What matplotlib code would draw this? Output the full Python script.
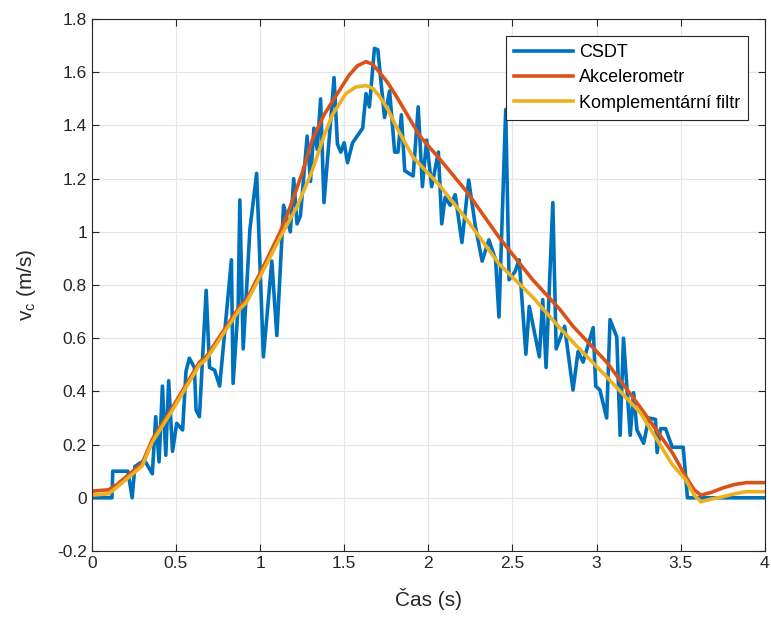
import matplotlib
matplotlib.use('Agg')
import matplotlib.pyplot as plt
from matplotlib.ticker import FuncFormatter

plt.rcParams['font.family'] = ['Liberation Sans', 'DejaVu Sans']
plt.rcParams['mathtext.fontset'] = 'custom'
plt.rcParams['mathtext.rm'] = 'Liberation Sans'
plt.rcParams['mathtext.it'] = 'Liberation Sans'

# CSDT measurement (noisy)
csdt_t = [0.0, 0.12, 0.125, 0.215, 0.24, 0.256, 0.285, 0.315, 0.36, 0.38, 0.40, 0.42,
          0.44, 0.457, 0.48, 0.505, 0.54, 0.56, 0.58, 0.61, 0.62, 0.64, 0.68, 0.70,
          0.73, 0.76, 0.80, 0.83, 0.84, 0.87, 0.88, 0.90, 0.94, 0.98, 1.02, 1.07,
          1.10, 1.14, 1.18, 1.20, 1.22, 1.24, 1.28, 1.30, 1.32, 1.34, 1.36, 1.38,
          1.415, 1.44, 1.46, 1.48, 1.50, 1.52, 1.55, 1.61, 1.63, 1.65, 1.68, 1.70,
          1.74, 1.77, 1.80, 1.82, 1.84, 1.86, 1.91, 1.94, 1.965, 1.99, 2.02, 2.06,
          2.08, 2.10, 2.13, 2.16, 2.20, 2.24, 2.28, 2.32, 2.36, 2.40, 2.42, 2.46,
          2.48, 2.515, 2.54, 2.58, 2.60, 2.66, 2.68, 2.70, 2.74, 2.76, 2.81, 2.86,
          2.89, 2.92, 2.98, 2.995, 3.02, 3.06, 3.08, 3.12, 3.14, 3.16, 3.20, 3.22,
          3.24, 3.28, 3.31, 3.35, 3.36, 3.38, 3.41, 3.45, 3.515, 3.54, 4.0]
csdt_v = [0.0, 0.0, 0.10, 0.10, 0.0, 0.117, 0.13, 0.14, 0.09, 0.305, 0.135, 0.42,
          0.16, 0.44, 0.175, 0.28, 0.255, 0.475, 0.525, 0.49, 0.33, 0.305, 0.78, 0.49,
          0.48, 0.42, 0.69, 0.895, 0.43, 0.72, 1.12, 0.56, 1.01, 1.22, 0.53, 0.89,
          0.61, 1.10, 1.0, 1.20, 1.03, 1.06, 1.36, 1.19, 1.39, 1.31, 1.50, 1.11,
          1.38, 1.58, 1.33, 1.30, 1.335, 1.26, 1.335, 1.39, 1.52, 1.47, 1.69, 1.685,
          1.43, 1.53, 1.30, 1.30, 1.44, 1.23, 1.21, 1.47, 1.17, 1.345, 1.17, 1.30,
          1.03, 1.13, 1.10, 1.14, 0.96, 1.195, 1.02, 0.89, 0.97, 0.895, 0.68, 1.46,
          0.82, 0.85, 0.895, 0.54, 0.72, 0.53, 0.745, 0.49, 1.11, 0.56, 0.645, 0.405,
          0.55, 0.51, 0.64, 0.42, 0.405, 0.30, 0.67, 0.605, 0.235, 0.60, 0.235, 0.395,
          0.255, 0.205, 0.30, 0.295, 0.17, 0.26, 0.26, 0.19, 0.19, 0.0, 0.0]

# Akcelerometr
acc_t = [0.0, 0.1, 0.15, 0.3, 0.36, 0.48, 0.64, 0.68, 0.88, 0.92, 1.04, 1.12, 1.18,
         1.25, 1.31, 1.38, 1.46, 1.53, 1.58, 1.63, 1.67, 1.71, 1.76, 1.81, 1.95,
         2.06, 2.23, 2.42, 2.62, 2.78, 2.86, 3.06, 3.26, 3.45, 3.53, 3.58, 3.62,
         3.68, 3.75, 3.82, 3.89, 4.0]
acc_v = [0.025, 0.03, 0.05, 0.13, 0.22, 0.34, 0.51, 0.53, 0.72, 0.745, 0.895, 1.0,
         1.095, 1.22, 1.345, 1.44, 1.52, 1.59, 1.625, 1.64, 1.63, 1.60, 1.56, 1.51,
         1.36, 1.28, 1.15, 0.98, 0.82, 0.71, 0.645, 0.51, 0.34, 0.17, 0.08, 0.03, 0.01,
         0.02, 0.037, 0.05, 0.057, 0.057]

# Komplementarni filtr
kf_t = [0.0, 0.1, 0.15, 0.3, 0.36, 0.48, 0.64, 0.68, 0.88, 0.92, 1.04, 1.12, 1.22,
        1.31, 1.38, 1.43, 1.51, 1.57, 1.63, 1.67, 1.71, 1.76, 1.81, 1.91, 2.0,
        2.06, 2.23, 2.42, 2.62, 2.78, 2.86, 3.06, 3.26, 3.45, 3.53, 3.58, 3.62,
        3.68, 3.75, 3.82, 3.89, 4.0]
kf_v = [0.01, 0.015, 0.04, 0.12, 0.21, 0.33, 0.50, 0.52, 0.71, 0.735, 0.88, 0.98,
        1.095, 1.23, 1.36, 1.44, 1.52, 1.545, 1.55, 1.54, 1.51, 1.46, 1.395, 1.28,
        1.22, 1.18, 1.045, 0.88, 0.755, 0.64, 0.585, 0.455, 0.32, 0.125, 0.068,
        0.01, -0.015, -0.005, 0.004, 0.015, 0.023, 0.023]

fig = plt.figure(figsize=(7.71, 6.17), dpi=100)
ax = fig.add_axes([0.119, 0.107, 0.873, 0.862])

ax.plot(csdt_t, csdt_v, color='#0072BD', lw=2.6, label='CSDT')
ax.plot(acc_t, acc_v, color='#D95319', lw=2.6, label='Akcelerometr')
ax.plot(kf_t, kf_v, color='#EDB120', lw=2.6, label='Komplementární filtr')

ax.set_xlim(0, 4)
ax.set_ylim(-0.2, 1.8)
ax.set_xticks([0, 0.5, 1, 1.5, 2, 2.5, 3, 3.5, 4])
ax.set_yticks([-0.2, 0, 0.2, 0.4, 0.6, 0.8, 1, 1.2, 1.4, 1.6, 1.8])
fmt = FuncFormatter(lambda v, p: ('%g' % round(v, 2)))
ax.xaxis.set_major_formatter(fmt)
ax.yaxis.set_major_formatter(fmt)
ax.tick_params(direction='in', top=True, right=True, labelsize=12.5,
               length=5, width=0.8, colors='#262626')
ax.grid(True, color='#e6e6e6', lw=0.8)
ax.set_axisbelow(True)
for s in ax.spines.values():
    s.set_color('#262626')
    s.set_linewidth(0.8)

ax.set_xlabel('Čas (s)', fontsize=15, color='#262626', labelpad=12)
ax.set_ylabel(r'v$_{\mathrm{c}}$ (m/s)', fontsize=15, color='#262626', labelpad=14)

leg = ax.legend(loc='upper right', bbox_to_anchor=(0.975, 0.968), borderaxespad=0,
                fontsize=13, handlelength=3.3, handletextpad=0.3, borderpad=0.45,
                labelspacing=0.45, fancybox=False, framealpha=1, edgecolor='#262626')
leg.get_frame().set_linewidth(0.8)

fig.savefig('out.png', dpi=100)
